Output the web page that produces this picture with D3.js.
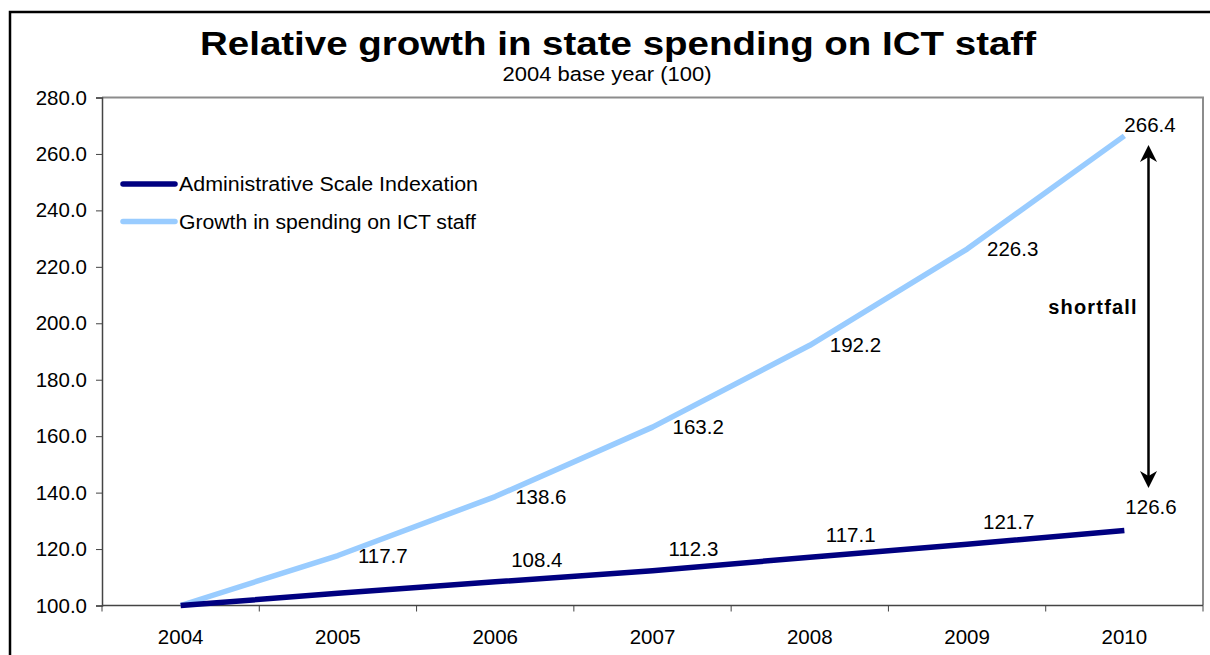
<!DOCTYPE html>
<html>
<head>
<meta charset="utf-8">
<script src="https://cdn.jsdelivr.net/npm/d3@7/dist/d3.min.js"></script>
<style>
  html, body { margin: 0; padding: 0; background: #fff; }
  svg { display: block; font-family: "Liberation Sans", Arial, Helvetica, sans-serif; }
</style>
</head>
<body>
<svg id="chart" width="1210" height="655"></svg>
<script>
// ---- data ----
const years = ["2004", "2005", "2006", "2007", "2008", "2009", "2010"];
const adminIndexation = [100, 104.3, 108.4, 112.3, 117.1, 121.7, 126.6];
const ictGrowth = [100, 117.7, 138.6, 163.2, 192.2, 226.3, 266.4];
const yTicks = [100, 120, 140, 160, 180, 200, 220, 240, 260, 280];
const seriesNames = ["Administrative Scale Indexation", "Growth in spending on ICT staff"];
const titleText = "Relative growth in state spending on ICT staff";
const subtitleText = "2004 base year (100)";
const shortfallRange = [141.6, 263.2];

const svg = d3.select("#chart");
const W = 1210, H = 655;
const plot = { left: 102, right: 1203, top: 97.5, bottom: 605.5 };

// outer border
svg.append("rect")
  .attr("x", 10).attr("y", 12).attr("width", W + 20).attr("height", H + 20)
  .attr("fill", "none").attr("stroke", "#000").attr("stroke-width", 2.5);

const x = d3.scaleBand().domain(years).range([plot.left, plot.right]).padding(0);
const y = d3.scaleLinear().domain([100, 280]).range([plot.bottom, plot.top]);
const cx = d => x(d) + x.bandwidth() / 2;

// plot area border (top/right gray)
svg.append("path")
  .attr("d", `M${plot.left},${plot.top}H${plot.right}V${plot.bottom}`)
  .attr("fill", "none").attr("stroke", "#8c8c8c").attr("stroke-width", 2);

// y axis
const yAxis = d3.axisLeft(y).tickValues(yTicks).tickSize(6).tickPadding(9).tickFormat(d3.format(".1f"));
const gy = svg.append("g").attr("transform", `translate(${plot.left},0)`).call(yAxis);
gy.select(".domain").attr("stroke", "#444").attr("stroke-width", 1.5);
gy.selectAll(".tick line").attr("stroke", "#444");
gy.selectAll("text").attr("font-size", 20.5).attr("fill", "#000")
  .attr("font-family", "Liberation Sans, Arial, sans-serif");

// x axis: ticks at band edges
const gx = svg.append("g").attr("transform", `translate(0,${plot.bottom})`);
gx.append("line").attr("x1", plot.left).attr("x2", plot.right)
  .attr("stroke", "#444").attr("stroke-width", 1.5);
const edges = years.map(d => x(d)).concat([plot.right]);
gx.selectAll("line.tk").data(edges).enter().append("line").attr("class", "tk")
  .attr("x1", d => d).attr("x2", d => d).attr("y1", 0).attr("y2", 6)
  .attr("stroke", "#444").attr("stroke-width", 1);
gx.selectAll("text").data(years).enter().append("text")
  .attr("x", d => cx(d)).attr("y", 38).attr("text-anchor", "middle")
  .attr("font-size", 20.5).attr("fill", "#000").text(d => d);

// lines
const line = d3.line().x((d, i) => cx(years[i])).y(d => y(d));
svg.append("path").datum(ictGrowth).attr("d", line)
  .attr("fill", "none").attr("stroke", "#99CCFF").attr("stroke-width", 5.5)
  .attr("stroke-linejoin", "round");
svg.append("path").datum(adminIndexation).attr("d", line)
  .attr("fill", "none").attr("stroke", "#000080").attr("stroke-width", 5.5)
  .attr("stroke-linejoin", "round");

// data labels
const lblSize = 20.5;
ictGrowth.forEach((v, i) => {
  if (i === 0) return;
  const last = i === years.length - 1;
  svg.append("text")
    .attr("x", cx(years[i]) + (last ? 0 : 20))
    .attr("y", y(v) + (last ? -11 : 0))
    .attr("dy", "0.35em")
    .attr("font-size", lblSize).attr("fill", "#000").text(v.toFixed(1));
});
adminIndexation.forEach((v, i) => {
  if (i < 2) return;
  const last = i === years.length - 1;
  svg.append("text")
    .attr("x", cx(years[i]) + (last ? 1 : 16))
    .attr("y", y(v) + (last ? -24 : -22))
    .attr("dy", "0.35em")
    .attr("font-size", lblSize).attr("fill", "#000").text(v.toFixed(1));
});

// shortfall arrow
const ax = 1148.5;
const yTop = y(shortfallRange[1]), yBot = y(shortfallRange[0]);
svg.append("line").attr("x1", ax).attr("x2", ax).attr("y1", yTop + 10).attr("y2", yBot - 10)
  .attr("stroke", "#000").attr("stroke-width", 2.5);
svg.append("path")
  .attr("d", `M${ax},${yTop} L${ax - 8.5},${yTop + 17} L${ax},${yTop + 12} L${ax + 8.5},${yTop + 17} Z`)
  .attr("fill", "#000");
svg.append("path")
  .attr("d", `M${ax},${yBot} L${ax - 8.5},${yBot - 17} L${ax},${yBot - 12} L${ax + 8.5},${yBot - 17} Z`)
  .attr("fill", "#000");
svg.append("text").attr("x", 1093).attr("y", 314).attr("text-anchor", "middle")
  .attr("font-size", 20).attr("font-weight", "bold").attr("letter-spacing", 1.2)
  .attr("fill", "#000").text("shortfall");

// legend
const legColors = ["#000080", "#99CCFF"];
const legY = [184, 221.5];
const legLen = [299, 297];
seriesNames.forEach((n, i) => {
  svg.append("line").attr("x1", 123).attr("x2", 175).attr("y1", legY[i]).attr("y2", legY[i])
    .attr("stroke", legColors[i]).attr("stroke-width", 5.5).attr("stroke-linecap", "round");
  svg.append("text").attr("x", 179).attr("y", legY[i]).attr("dy", "0.36em")
    .attr("font-size", 20.5).attr("fill", "#000")
    .attr("textLength", legLen[i]).attr("lengthAdjust", "spacingAndGlyphs").text(n);
});

// title
svg.append("text").attr("x", 618).attr("y", 55).attr("text-anchor", "middle")
  .attr("font-size", 34).attr("font-weight", "bold").attr("fill", "#000")
  .attr("textLength", 836).attr("lengthAdjust", "spacingAndGlyphs").text(titleText);
svg.append("text").attr("x", 607).attr("y", 81).attr("text-anchor", "middle")
  .attr("font-size", 20.5).attr("fill", "#000")
  .attr("textLength", 209).attr("lengthAdjust", "spacingAndGlyphs").text(subtitleText);
</script>
</body>
</html>
